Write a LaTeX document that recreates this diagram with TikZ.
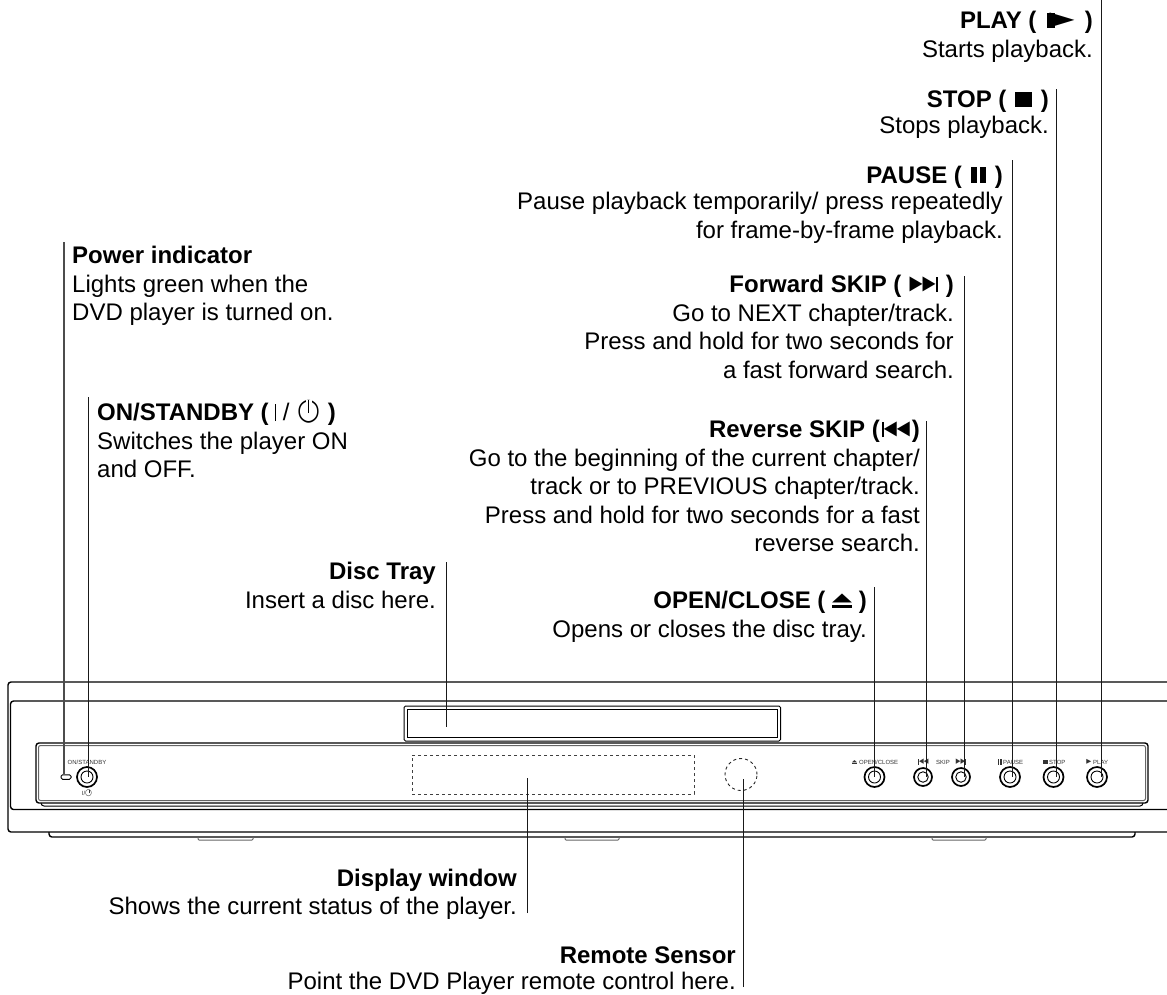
\documentclass[tikz,border=0pt]{standalone}
\usepackage{fontspec}
\setmainfont{Liberation Sans}
\newfontfamily\symfont{DejaVu Sans}
\usetikzlibrary{positioning}
\colorlet{lclead}{black!90}
\colorlet{lcmini}{black!80}
\newsavebox{\gbox}
\newcommand{\gl}[3]{\sbox{\gbox}{\resizebox*{#1}{#2}{\symfont #3}}\raisebox{\dp\gbox}{\usebox{\gbox}}}
\newcommand{\symplay}{\rule{8pt}{15pt}\hspace{-5pt}\gl{25pt}{15pt}{▶}}
\newcommand{\symstop}{\rule{17pt}{15pt}}
\newcommand{\sympause}{\rule{5.5pt}{16pt}\hspace{3.5pt}\rule{5.5pt}{16pt}}
\newcommand{\symnext}{\gl{13pt}{15pt}{▶}\gl{13pt}{15pt}{▶}\rule{2pt}{15pt}}
\newcommand{\symprev}{\rule{2pt}{15pt}\gl{13pt}{15pt}{◀}\gl{13pt}{15pt}{◀}}
\newcommand{\symeject}{\rlap{\raisebox{5pt}{\gl{20pt}{9pt}{▲}}}\rule{20pt}{3pt}}
\newcommand{\sympower}{\raisebox{-3pt}{\mdseries\rlap{\gl{23pt}{23pt}{○}}\hspace{8.5pt}\rlap{\raisebox{15pt}{\textcolor{white}{\rule{6pt}{8pt}}}}\hspace{2.6pt}\rlap{\raisebox{10pt}{\rule{.9pt}{13pt}}}\hspace{11.9pt}}}

\begin{document}
\begin{tikzpicture}[x=1pt, y=-1pt]
\useasboundingbox (0,0) rectangle (1167,994);
% -------------------------------------------------
\tikzset{
  title/.style={inner sep=0pt, font={\fontsize{24}{28.5}\selectfont\bfseries}},
  desc/.style={inner sep=0pt, font={\fontsize{24}{28.5}\selectfont}},
  descl/.style={desc, align=left},
  descr/.style={desc, align=right},
  % connector lines from the texts to the player
  lead/.style={draw, lclead, line width=1.4pt},
  % player outline
  body/.style={draw, line width=1.4pt, rounded corners=3pt},
  thinb/.style={draw, black!60, line width=1pt, rounded corners=2pt},
  btn/.style={draw, circle, inner sep=0pt, line width=1.7pt},
  btnin/.style={draw, circle, inner sep=0pt, line width=.9pt},
  mini/.style={inner sep=0pt, lcmini, font={\fontsize{6}{7}\selectfont}}
}
% -------------------------------------------------
% The player body, cut off at the right edge
\draw [body] (1167,682) -- (8,682) -- (8,832) -- (1167,832);
\draw [body] (1167,701) -- (10.5,701) -- (10.5,809.5) -- (1167,809.5);
\draw [body] (49,832) -- (49,837) -- (1135,837) -- (1135,832);
\draw [body, line width=1pt] (41,803) -- (41,806) -- (1143,806) -- (1143,803);
\draw [thinb, rounded corners=1pt] (198,837) -- (198,840) -- (253,840) -- (253,837);
\draw [thinb, rounded corners=1pt] (565,837) -- (565,840) -- (619,840) -- (619,837);
\draw [thinb, rounded corners=1pt] (932,837) -- (932,840) -- (986,840) -- (986,837);
\draw [body] (36,743) rectangle (1148,803);
\draw [thinb] (38.5,745.5) rectangle (1145.5,800.5);
\draw [body, line width=1pt, rounded corners=1.5pt] (404,706) rectangle (780.5,741);
\draw [body, line width=1pt, rounded corners=0pt] (407.5,709.5) rectangle (777,737.5);

% Display window, sensor and power lamp
\node [draw, black!75, dashed, line width=.9pt, inner sep=0pt, minimum width=282pt,
  minimum height=39pt] (display) at (553,774.5) {};
\node [draw, black!85, dashed, circle, line width=.9pt, inner sep=0pt,
  minimum size=32pt] (sensor) at (741,774.5) {};
\node [draw, line width=1pt, rounded corners=1.5pt, inner sep=0pt, minimum width=10pt,
  minimum height=4.5pt] (led) at (66,777) {};

% Buttons
\foreach \b/\x/\r/\s in {on/87/20/12, open/874.5/20/12, prev/923/18/10.5, next/961/18/10.5,
    pause/1010/20/12, stop/1053.5/20/12, play/1097/20/12}{
  \node [btn, minimum size=\r pt] (b\b) at (\x,777) {};
  \node [btnin, minimum size=\s pt] (i\b) at (b\b) {};
}

% Lettering on the panel
\node [mini] (mon) at (87,762) {ON/STANDBY};
\node [mini] (mpower) at (87,793) {I/\scalebox{.3}{\sympower}};
\node [mini, anchor=west] (mopen) at (859,762) {OPEN/CLOSE};
\node [mini, anchor=east] (meject) at (857.5,762) {\scalebox{.27}{\symeject}};
\node [mini] (mprev) at (923.5,762) {\scalebox{.36}{\symprev}};
\node [mini, anchor=west] (mskip) at (936,762) {SKIP};
\node [mini] (mnext) at (961,762) {\scalebox{.36}{\symnext}};
\node [mini, anchor=west] (mpause) at (1003,762) {PAUSE};
\node [mini, anchor=east] (mpausei) at (1002.5,762) {\scalebox{.33}{\sympause}};
\node [mini, anchor=west] (mstop) at (1049,762) {STOP};
\node [mini, anchor=east] (mstopi) at (1048.5,762) {\scalebox{.33}{\symstop}};
\node [mini, anchor=west] (mplay) at (1093,762) {PLAY};
\node [mini, anchor=east] (mplayi) at (1091.5,762) {\gl{5pt}{5pt}{▶}};

% -------------------------------------------------
% Texts on the left
\node [title, anchor=base west] (tpower) at (72,263) {Power indicator};
\node [descl, below right=11.5pt and 0pt of tpower.base west] (dpower)
  {Lights green when the\\DVD player is turned on.};
\node [title, anchor=base west] (ton) at (97,420) {ON/STANDBY ( \rule[-1pt]{.7pt}{17pt} {\mdseries /} \hspace{1pt}\sympower{}\hspace{1pt} )};
\node [descl, below right=11.5pt and 0pt of ton.base west] (don)
  {Switches the player ON\\and OFF.};

% Texts on the right
\node [title, anchor=base east] (tplay) at (1093,28) {PLAY ( \hspace{3.5pt}\symplay{}\hspace{3.5pt} )};
\node [descr, below left=11.5pt and 0pt of tplay.base east] (dplay) {Starts playback.};
\node [title, anchor=base east] (tstop) at (1049,107) {STOP ( \hspace{2pt}\symstop{}\hspace{2pt} )};
\node [descr, below left=9pt and 0pt of tstop.base east] (dstop) {Stops playback.};
\node [title, anchor=base east] (tpause) at (1003,183) {PAUSE ( \hspace{2.5pt}\sympause{}\hspace{2.5pt} )};
\node [descr, below left=9pt and 0pt of tpause.base east] (dpause)
  {Pause playback temporarily/ press repeatedly\\for frame-by-frame playback.};
\node [title, anchor=base east] (tnext) at (954,292) {Forward SKIP ( \hspace{1.5pt}\symnext{}\hspace{1.5pt} )};
\node [descr, below left=11.5pt and 0pt of tnext.base east] (dnext)
  {Go to NEXT chapter/track.\\Press and hold for two seconds for\\a fast forward search.};
\node [title, anchor=base east] (tprev) at (920,437) {Reverse SKIP (\hspace{2pt}\symprev{}\hspace{2pt})};
\node [descr, below left=11.5pt and 0pt of tprev.base east] (dprev)
  {Go to the beginning of the current chapter/\\track or to PREVIOUS chapter/track.\\Press and hold for two seconds for a fast\\reverse search.};
\node [title, anchor=base east] (topen) at (867,608) {OPEN/CLOSE ( \symeject{} )};
\node [descr, below left=11.5pt and 0pt of topen.base east] (dopen) {Opens or closes the disc tray.};
\node [title, anchor=base east] (ttray) at (436,579) {Disc Tray};
\node [descr, below left=11.5pt and 0pt of ttray.base east] (dtray) {Insert a disc here.};

% Texts below the player
\node [title, anchor=base east] (tdisplay) at (517,886) {Display window};
\node [descr, below left=11pt and 0pt of tdisplay.base east] (ddisplay) {Shows the current status of the player.};
\node [title, anchor=base east] (tsensor) at (736,963) {Remote Sensor};
\node [descr, below left=9pt and 0pt of tsensor.base east] (dsensor) {Point the DVD Player remote control here.};

% -------------------------------------------------
% Free ends of the connectors
\coordinate (lpower) at (64,242);
\coordinate (lon) at (88.5,397);
\coordinate (lopen) at (874.5,587);
\coordinate (lprev) at (926.5,421);
\coordinate (lnext) at (964.5,276);
\coordinate (lpause) at (1012.5,160);
\coordinate (lstop) at (1056.5,89);
\coordinate (lplay) at (1101.5,0);
\coordinate (ltray) at (446.5,562);
\coordinate (etray) at (446.5,727);
\coordinate (ldisplay) at (527.5,913);
\coordinate (edisplay) at (527.5,778);
\coordinate (lsensor) at (743.5,987);
\coordinate (esensor) at (743.5,779);

\draw [lead, black!70, line width=1.6pt] (lpower) -- (lpower |- led.north);
\draw [lead] (lon) -- (lon |- bon);
\draw [lead] (lopen) -- (lopen |- bopen);
\draw [lead] (lprev) -- (lprev |- bprev);
\draw [lead] (lnext) -- (lnext |- bnext);
\draw [lead] (lpause) -- (lpause |- bpause);
\draw [lead] (lstop) -- (lstop |- bstop);
\draw [lead] (lplay) -- (lplay |- bplay);
\draw [lead] (ltray) -- (etray);
\draw [lead] (ldisplay) -- (edisplay);
\draw [lead] (lsensor) -- (esensor);
\end{tikzpicture}
\end{document}
